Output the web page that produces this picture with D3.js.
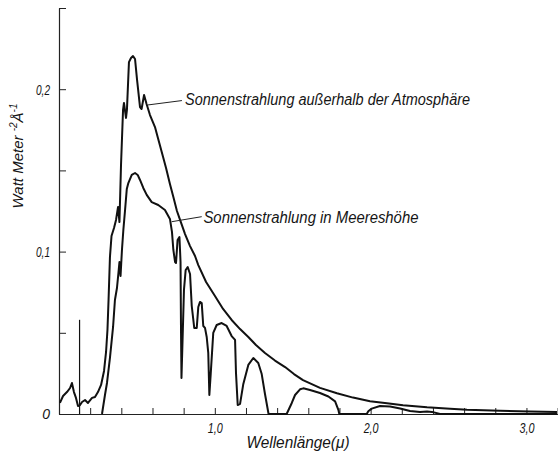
<!DOCTYPE html>
<html>
<head>
<meta charset="utf-8">
<script src="https://cdn.jsdelivr.net/npm/d3@7"></script>
<style>
  body { margin: 0; background: #fff; }
  svg { display: block; }
  text { font-family: "Liberation Sans", "DejaVu Sans", sans-serif; font-style: italic; fill: #151515; }
</style>
</head>
<body>
<svg id="chart" width="558" height="457"></svg>
<script>
// Spectral irradiance of the sun, W m^-2 Å^-1, against wavelength in µ.
// Outside the atmosphere:
const wavelengthSpace = [0.006,0.026,0.051,0.071,0.083,0.096,0.109,0.122,0.135,0.148,0.167,0.186,0.212,0.231,0.250,0.270,0.289,0.302,0.311,0.318,0.327,0.337,0.353,0.366,0.379,0.388,0.398,0.411,0.417,0.430,0.436,0.449,0.462,0.475,0.488,0.501,0.520,0.530,0.546,0.562,0.584,0.616,0.635,0.668,0.687,0.712,0.734,0.757,0.777,0.809,0.841,0.873,0.894,0.944,1.001,1.053,1.108,1.162,1.215,1.264,1.322,1.386,1.451,1.508,1.566,1.675,1.784,1.887,1.996,2.105,2.208,2.362,2.510,2.619,2.831,3.023,3.196];
const irradianceSpace = [0.0068,0.0111,0.0135,0.0160,0.0191,0.0135,0.0099,0.0049,0.0055,0.0074,0.0086,0.0068,0.0099,0.0105,0.0135,0.0179,0.0265,0.0382,0.0517,0.0702,0.0967,0.1096,0.1145,0.1195,0.1275,0.1182,0.1533,0.1872,0.1915,0.1823,0.1872,0.2167,0.2192,0.2204,0.2186,0.2057,0.1890,0.1878,0.1964,0.1909,0.1841,0.1767,0.1700,0.1583,0.1515,0.1416,0.1336,0.1250,0.1195,0.1108,0.1034,0.0973,0.0917,0.0813,0.0727,0.0647,0.0579,0.0523,0.0474,0.0425,0.0376,0.0329,0.0289,0.0246,0.0209,0.0161,0.0128,0.0101,0.0079,0.0066,0.0054,0.0041,0.0032,0.0026,0.0020,0.0016,0.0012];

// At sea level:
const wavelengthSea = [0.276,0.295,0.308,0.327,0.347,0.359,0.372,0.382,0.388,0.395,0.404,0.413,0.424,0.435,0.445,0.467,0.488,0.505,0.520,0.541,0.563,0.595,0.637,0.680,0.712,0.725,0.734,0.745,0.751,0.761,0.773,0.780,0.783,0.786,0.793,0.802,0.813,0.826,0.841,0.852,0.868,0.884,0.894,0.905,0.916,0.926,0.937,0.948,0.958,0.965,0.974,0.990,1.012,1.044,1.076,1.108,1.130,1.136,1.147,1.162,1.183,1.215,1.247,1.279,1.301,1.322,1.345,1.461,1.476,1.494,1.515,1.547,1.568,1.611,1.675,1.729,1.772,1.793,1.799,1.975,1.985,2.007,2.060,2.125,2.189,2.253,2.317,2.362,2.394,2.445,3.196];
const irradianceSea = [0,0.0117,0.0191,0.0345,0.0536,0.0702,0.0776,0.0874,0.0936,0.0850,0.1010,0.1133,0.1256,0.1385,0.1422,0.1472,0.1484,0.1472,0.1441,0.1392,0.1349,0.1305,0.1287,0.1256,0.1201,0.1121,0.1010,0.0936,0.0930,0.1071,0.1090,0.0936,0.0517,0.0222,0.0456,0.0764,0.0887,0.0905,0.0862,0.0665,0.0530,0.0530,0.0659,0.0690,0.0683,0.0542,0.0530,0.0474,0.0376,0.0117,0.0252,0.0499,0.0548,0.0560,0.0542,0.0480,0.0456,0.0252,0.0055,0.0062,0.0185,0.0302,0.0345,0.0314,0.0246,0.0123,0,0,0.0031,0.0068,0.0117,0.0152,0.0158,0.0148,0.0129,0.0108,0.0078,0.0026,0,0,0.0017,0.0033,0.0049,0.0046,0.0034,0.0018,0.0012,0.0015,0.0013,0,0];

// Isolated line in the ultraviolet
const spikeWavelength = [0.132];
const spikeIrradiance = [0.058];

// Axes
const xTickValues = [0.2,0.4,0.6,0.8,1.0,1.2,1.4,1.6,1.8,2.0,2.2,2.4,2.6,2.8,3.0,3.2];
const xLabelValues = [1.0, 2.0, 3.0];
const xTickLabels = ["1,0", "2,0", "3,0"];
const yTickValues = [0, 0.05, 0.1, 0.15, 0.2, 0.25];
const yLabelValues = [0, 0.1, 0.2];
const yTickLabels = ["0", "0,1", "0,2"];

const xTitle = "Wellenlänge(μ)";
const curveLabels = ["Sonnenstrahlung außerhalb der Atmosphäre", "Sonnenstrahlung in Meereshöhe"];

const svg = d3.select("#chart");
const x = d3.scaleLinear().domain([0, 3.2]).range([59, 557.6]);
const y = d3.scaleLinear().domain([0, 0.25]).range([414, 8]);

const labelFor = (vals, labels) => d => {
  const i = vals.findIndex(v => Math.abs(v - d) < 1e-9);
  return i >= 0 ? labels[i] : "";
};

// x axis: ticks point up into the plot
const gx = svg.append("g")
  .attr("transform", `translate(0,${y(0)})`)
  .call(d3.axisBottom(x).tickValues(xTickValues).tickSize(-6).tickSizeOuter(0)
    .tickFormat(labelFor(xLabelValues, xTickLabels)));
gx.select(".domain").attr("stroke", "#222").attr("stroke-width", 1.2);
gx.selectAll(".tick line").attr("stroke", "#222").attr("stroke-width", 1);
gx.selectAll(".tick text")
  .attr("y", 19).attr("dy", 0).attr("font-size", 14)
  .attr("textLength", d => labelFor(xLabelValues, xTickLabels)(d) ? 15 : null)
  .attr("lengthAdjust", "spacingAndGlyphs")
  .style("font-family", "'Liberation Sans', sans-serif").style("font-style", "italic");

// y axis: ticks point right into the plot
const gy = svg.append("g")
  .attr("transform", `translate(${x(0)},0)`)
  .call(d3.axisLeft(y).tickValues(yTickValues).tickSize(-7).tickSizeOuter(0)
    .tickFormat(labelFor(yLabelValues, yTickLabels)));
gy.select(".domain").attr("stroke", "#222").attr("stroke-width", 1.2);
gy.selectAll(".tick line").attr("stroke", "#222").attr("stroke-width", 1);
gy.selectAll(".tick text")
  .attr("x", -9).attr("dy", "0.35em").attr("font-size", 14)
  .attr("textLength", d => { const t = labelFor(yLabelValues, yTickLabels)(d); return t.length > 1 ? 14 : null; })
  .attr("lengthAdjust", "spacingAndGlyphs")
  .style("font-family", "'Liberation Sans', sans-serif").style("font-style", "italic");

// Spectra
const line = d3.line().x(d => x(d[0])).y(d => y(d[1]));
const space = d3.zip(wavelengthSpace, irradianceSpace);
const sea = d3.zip(wavelengthSea, irradianceSea);

svg.append("path").datum(space)
  .attr("d", line).attr("fill", "none").attr("stroke", "#111")
  .attr("stroke-width", 2).attr("stroke-linejoin", "round");
svg.append("path").datum(sea)
  .attr("d", line).attr("fill", "none").attr("stroke", "#111")
  .attr("stroke-width", 2).attr("stroke-linejoin", "round");

svg.selectAll(".spike").data(d3.zip(spikeWavelength, spikeIrradiance)).join("line")
  .attr("class", "spike")
  .attr("x1", d => x(d[0])).attr("x2", d => x(d[0]))
  .attr("y1", y(0)).attr("y2", d => y(d[1]))
  .attr("stroke", "#111").attr("stroke-width", 1.2);

// Curve labels with leader lines (anchors in data units)
const annotations = [
  { from: [0.571, 0.1903], to: [0.789, 0.1930], text: [0.809, 0.1903], label: curveLabels[0], width: 285 },
  { from: [0.723, 0.1184], to: [0.916, 0.1215], text: [0.927, 0.1176], label: curveLabels[1], width: 215 }
];
annotations.forEach(a => {
  svg.append("line")
    .attr("x1", x(a.from[0])).attr("y1", y(a.from[1]))
    .attr("x2", x(a.to[0])).attr("y2", y(a.to[1]))
    .attr("stroke", "#222").attr("stroke-width", 1);
  svg.append("text")
    .attr("x", x(a.text[0])).attr("y", y(a.text[1]))
    .attr("font-size", 16)
    .attr("textLength", a.width).attr("lengthAdjust", "spacingAndGlyphs")
    .text(a.label);
});

// Axis titles
svg.append("text")
  .attr("x", 298).attr("y", 448)
  .attr("text-anchor", "middle").attr("font-size", 16)
  .attr("textLength", 103).attr("lengthAdjust", "spacingAndGlyphs")
  .text(xTitle);

const yTitle = svg.append("text")
  .attr("transform", "translate(23,156) rotate(-90)")
  .attr("text-anchor", "middle").attr("font-size", 15);
yTitle.append("tspan").text("Watt Meter ");
yTitle.append("tspan").attr("font-size", 10).attr("dy", -6).text("-2");
yTitle.append("tspan").attr("dy", 6).text("Å");
yTitle.append("tspan").attr("font-size", 10).attr("dy", -6).text("-1");
</script>
</body>
</html>
